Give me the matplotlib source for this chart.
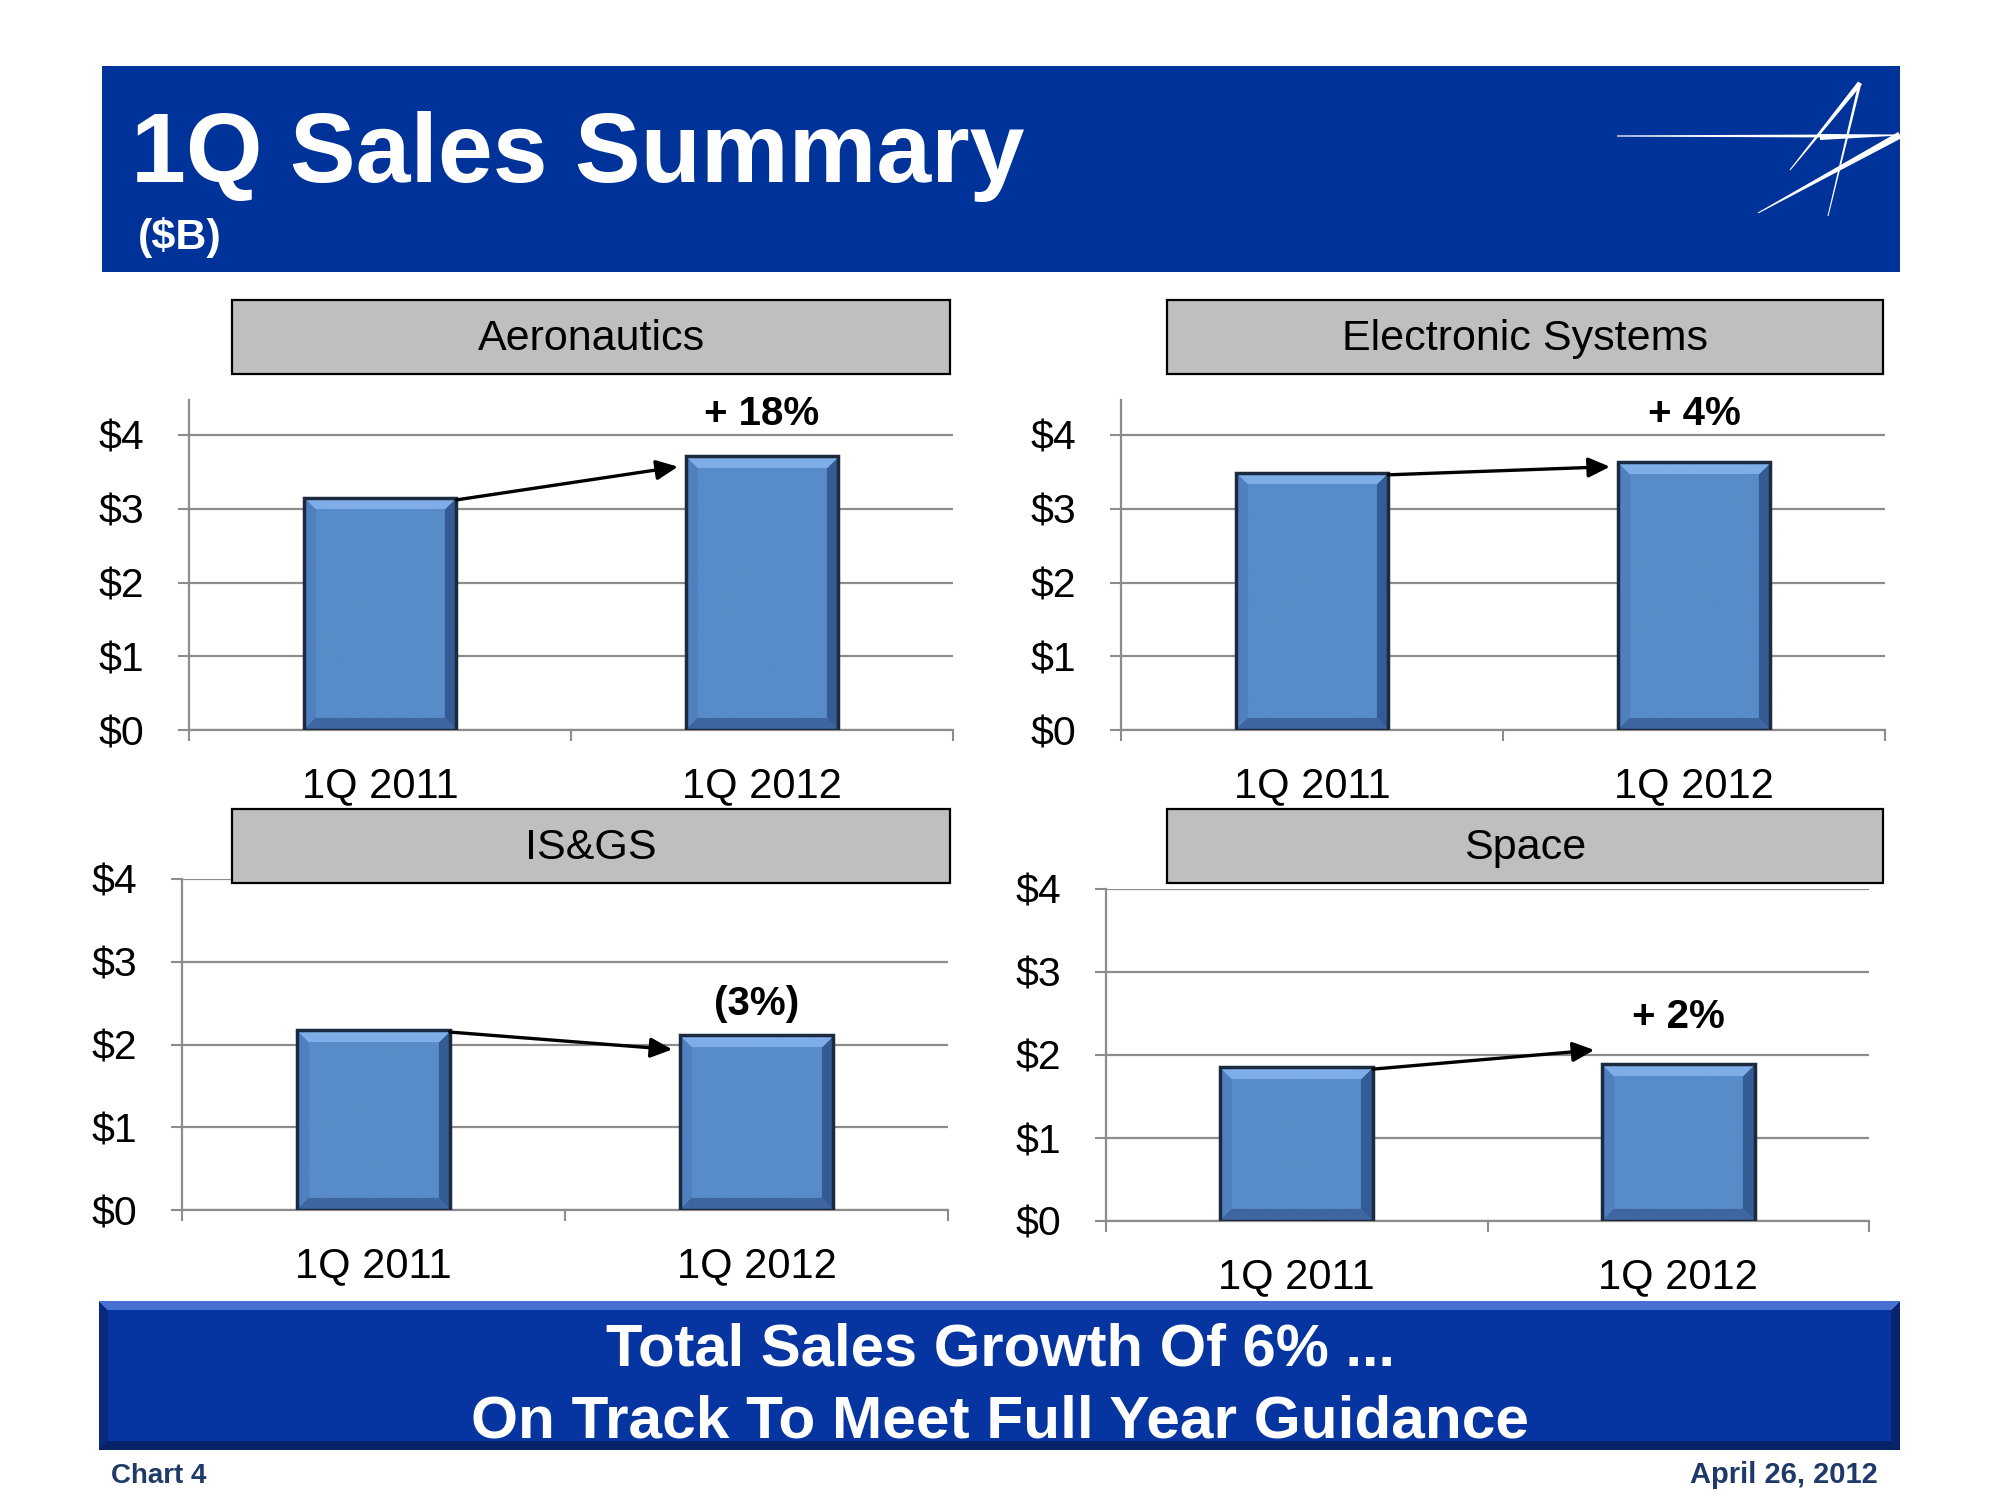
import numpy as np
import matplotlib
matplotlib.use('Agg')
import matplotlib.pyplot as plt
from matplotlib.patches import Rectangle, Polygon

plt.rcParams['font.family'] = ['Liberation Sans', 'DejaVu Sans']

# ---------------- data ----------------
segments = ['Aeronautics', 'Electronic Systems', 'IS&GS', 'Space']
periods = ['1Q 2011', '1Q 2012']
sales_1q2011 = [3.15, 3.49, 2.17, 1.85]
sales_1q2012 = [3.71, 3.63, 2.11, 1.89]
growth_labels = ['+ 18%', '+ 4%', '(3%)', '+ 2%']
y_ticks = [0, 1, 2, 3, 4]
y_tick_labels = ['$0', '$1', '$2', '$3', '$4']
title = '1Q Sales Summary'
subtitle = '($B)'
banner_lines = ['Total Sales Growth Of 6% ...', 'On Track To Meet Full Year Guidance']
footer_left = 'Chart 4'
footer_right = 'April 26, 2012'

# ---------------- layout / style ----------------
W, H = 2000, 1500
def fx(x): return x / W
def fy(y): return 1 - y / H

HEADER_BLUE = '#003399'
GRID = '#8C8C8C'
BAR_BASE = np.array([88, 139, 201]) / 255
BAR_TOP = np.array([126, 173, 232]) / 255
BAR_LEFT = np.array([80, 128, 192]) / 255
BAR_RIGHT = np.array([52, 92, 148]) / 255
BAR_BOTTOM = np.array([62, 102, 160]) / 255
BAR_EDGE = '#1C2A40'
BAR_W = 0.4

# panel geometry in pixels: left, right, y of zero, pixels per unit, ymax
panel_geom = [
    (189, 953, 730, 73.75, 4.48),
    (1121, 1885, 730, 73.75, 4.48),
    (182, 948, 1210, 82.75, 4.0),
    (1106, 1869, 1221, 83.0, 4.0),
]
box_geom = [
    (232, 300, 950, 374),
    (1167, 300, 1883, 374),
    (232, 809, 950, 883),
    (1167, 809, 1883, 883),
]
label_y = [4.28, 4.28, 2.49, 2.46]
arrow_start_dy = [-0.03, -0.03, -0.02, -0.02]
arrow_end_dy = [-0.14, -0.06, -0.17, 0.17]


def bevel_image(nx, ny, base, top, bottom, left, right, b):
    i = np.arange(ny)[:, None]
    j = np.arange(nx)[None, :]
    dists = np.stack(np.broadcast_arrays(i, ny - 1 - i, j, nx - 1 - j)).astype(float)
    m = dists.min(axis=0)
    which = dists.argmin(axis=0)
    img = np.empty((ny, nx, 3))
    img[:] = base
    for k, c in enumerate([top, bottom, left, right]):
        mask = (m < b) & (which == k)
        img[mask] = c
    return img


fig = plt.figure(figsize=(20, 15), dpi=100)
fig.patch.set_facecolor('white')

# ---- header ----
fig.patches.append(Rectangle((fx(102), fy(272)), (1900 - 102) / W, (272 - 66) / H,
                             transform=fig.transFigure, facecolor=HEADER_BLUE,
                             edgecolor='none', zorder=0))
fig.text(fx(131), fy(182), title, fontsize=71, fontweight='bold', color='white',
         va='baseline', ha='left')
fig.text(fx(138), fy(249), subtitle, fontsize=31, fontweight='bold', color='white',
         va='baseline', ha='left')


def taper(p0, p1, w0, w1):
    p0 = np.array(p0, float); p1 = np.array(p1, float)
    d = p1 - p0
    d /= np.hypot(*d)
    n = np.array([-d[1], d[0]])
    pts = [p0 + n * w0 / 2, p1 + n * w1 / 2, p1 - n * w1 / 2, p0 - n * w0 / 2]
    return Polygon([(fx(x), fy(y)) for x, y in pts], closed=True,
                   transform=fig.transFigure, facecolor='white', edgecolor='none', zorder=1)

# logo strokes
fig.patches.append(taper((1617, 136), (1840, 136), 1.2, 3.0))
fig.patches.append(taper((1900, 135), (1758, 213), 7, 1))
fig.patches.append(taper((1900, 135), (1820, 137), 1, 6))
fig.patches.append(taper((1860, 83), (1790, 170), 5, 1))
fig.patches.append(taper((1860, 83), (1828, 216), 3, 1))

# ---- panels ----
for k in range(4):
    left, right, y0, unit, ymax = panel_geom[k]
    ax_h = ymax * unit
    ax = fig.add_axes([fx(left), fy(y0), (right - left) / W, ax_h / H])
    ax.set_xlim(-0.5, 1.5)
    ax.set_ylim(0, ymax)
    ax.set_facecolor('none')
    vals = [sales_1q2011[k], sales_1q2012[k]]
    bar_px_w = BAR_W * (right - left) / 2
    for xi, v in enumerate(vals):
        ax.bar([xi], [v], width=BAR_W, color=BAR_BASE, edgecolor='none', zorder=3)
        rect = ax.patches[-1]
        img = bevel_image(int(bar_px_w), max(int(v * unit), 20), BAR_BASE, BAR_TOP,
                          BAR_BOTTOM, BAR_LEFT, BAR_RIGHT, 12)
        im = ax.imshow(img, extent=[xi - BAR_W / 2, xi + BAR_W / 2, 0, v], aspect='auto',
                       origin='upper', interpolation='bilinear', zorder=3.5)
        im.set_clip_path(rect)
        ax.bar([xi], [v], width=BAR_W, fill=False, edgecolor=BAR_EDGE, linewidth=2.5, zorder=4)
    ax.set_xlim(-0.5, 1.5)
    ax.set_ylim(0, ymax)
    ax.set_aspect('auto')

    ax.set_yticks(y_ticks)
    ax.set_yticklabels(y_tick_labels, fontsize=29.5)
    ax.set_xticks([0, 1])
    ax.set_xticklabels(periods, fontsize=30)
    ax.set_xticks([-0.5, 0.5, 1.5], minor=True)
    ax.tick_params(axis='x', which='major', length=0, pad=26)
    ax.tick_params(axis='x', which='minor', length=8, width=1.5, color=GRID, direction='out')
    ax.tick_params(axis='y', length=8, width=1.5, color=GRID, pad=24, direction='out')
    ax.yaxis.grid(True, color=GRID, linewidth=1.6)
    ax.set_axisbelow(True)
    for s in ['top', 'right']:
        ax.spines[s].set_visible(False)
    for s in ['left', 'bottom']:
        ax.spines[s].set_color(GRID)
        ax.spines[s].set_linewidth(1.6)

    # change arrow
    ax.annotate('', xy=(1 - BAR_W / 2 - 0.02, vals[1] + arrow_end_dy[k]),
                xytext=(BAR_W / 2, vals[0] + arrow_start_dy[k]),
                arrowprops=dict(arrowstyle='-|>,head_length=0.65,head_width=0.3',
                                mutation_scale=20, color='black', lw=2.4,
                                shrinkA=0, shrinkB=0),
                zorder=6)
    ax.text(1, label_y[k], growth_labels[k], ha='center', va='center', fontsize=29,
            fontweight='bold', color='black', zorder=6)

    # segment header box
    bx0, by0, bx1, by1 = box_geom[k]
    fig.patches.append(Rectangle((fx(bx0), fy(by1)), (bx1 - bx0) / W, (by1 - by0) / H,
                                 transform=fig.transFigure, facecolor='#BFBFBF',
                                 edgecolor='black', linewidth=1.6, zorder=5))
    fig.text(fx((bx0 + bx1) / 2), fy((by0 + by1) / 2 + 2), segments[k], fontsize=31,
             ha='center', va='center', color='black', zorder=6)

# ---- bottom banner ----
bx0, by0, bx1, by1 = 99, 1301, 1900, 1450
bax = fig.add_axes([fx(bx0), fy(by1), (bx1 - bx0) / W, (by1 - by0) / H])
bax.set_axis_off()
bimg = bevel_image(bx1 - bx0, by1 - by0, np.array([6, 52, 160]) / 255,
                   np.array([70, 112, 210]) / 255, np.array([8, 34, 104]) / 255,
                   np.array([10, 42, 128]) / 255, np.array([8, 36, 112]) / 255, 9)
bax.imshow(bimg, extent=[0, 1, 0, 1], aspect='auto', origin='upper', interpolation='bilinear')
bax.set_xlim(0, 1)
bax.set_ylim(0, 1)
fig.text(fx(1000), fy(1365), banner_lines[0], fontsize=43, fontweight='bold',
         color='white', ha='center', va='baseline', zorder=10)
fig.text(fx(1000), fy(1437), banner_lines[1], fontsize=43.5, fontweight='bold',
         color='white', ha='center', va='baseline', zorder=10)

# ---- footer ----
fig.text(fx(111), fy(1483), footer_left, fontsize=20, fontweight='bold', color='#1F3A68',
         ha='left', va='baseline')
fig.text(fx(1878), fy(1483), footer_right, fontsize=21, fontweight='bold', color='#1F3A68',
         ha='right', va='baseline')

fig.savefig('out.png', dpi=100, facecolor='white')
